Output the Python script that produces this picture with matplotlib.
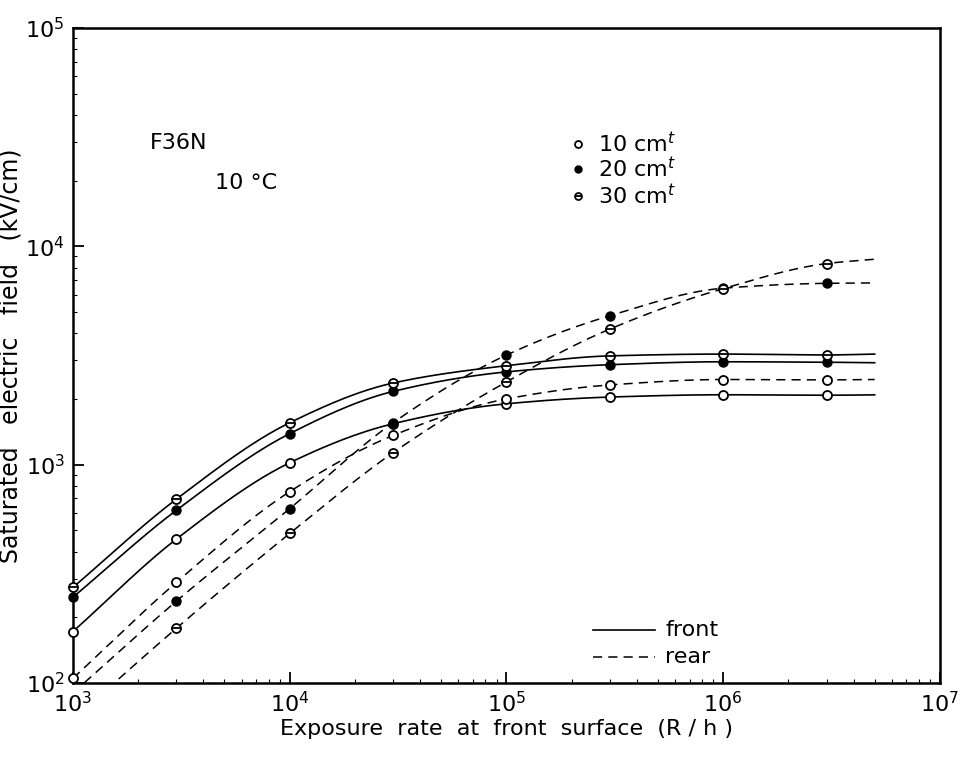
import numpy as np
import matplotlib.pyplot as plt

# exposure rate (R/h) of the measured points
x_pts = [1e3, 3e3, 1e4, 3e4, 1e5, 3e5, 1e6, 3e6]

# saturated field (kV/cm); nan = off the plot
front_10 = [172, 456, 1020, 1540, 1900, 2040, 2090, 2080]
front_20 = [247, 618, 1387, 2165, 2660, 2870, 2960, 2945]
front_30 = [274, 695, 1556, 2366, 2840, 3150, 3210, 3180]
rear_10 = [105, 289, 752, 1361, 2000, 2318, 2455, 2445]
rear_20 = [np.nan, 237, 629, 1556, 3177, 4810, 6430, 6770]
rear_30 = [np.nan, 178, 484, 1135, 2393, 4180, 6400, 8340]

# where the drawn curves start / end beyond the markers
x_start = 1e3
x_end = 5e6
start_vals = {"rear_20": 90, "rear_30": 68}
end_vals = {"front_10": 2088, "front_20": 2930, "front_30": 3210,
            "rear_10": 2455, "rear_20": 6800, "rear_30": 8730}

thick = ["10", "20", "30"]


def smooth(xs, ys, n=300):
    # monotone cubic (Fritsch-Carlson) through the points in log-log space
    lx = np.log10(xs)
    ly = np.log10(ys)
    h = np.diff(lx)
    d = np.diff(ly) / h
    m = np.zeros_like(lx)
    m[0], m[-1] = d[0], d[-1]
    for i in range(1, len(lx) - 1):
        if d[i - 1] * d[i] <= 0:
            m[i] = 0
        else:
            w1 = 2 * h[i] + h[i - 1]
            w2 = h[i] + 2 * h[i - 1]
            m[i] = (w1 + w2) / (w1 / d[i - 1] + w2 / d[i])
    xx = np.linspace(lx[0], lx[-1], n)
    k = np.clip(np.searchsorted(lx, xx) - 1, 0, len(lx) - 2)
    t = (xx - lx[k]) / h[k]
    h00 = 2 * t**3 - 3 * t**2 + 1
    h10 = t**3 - 2 * t**2 + t
    h01 = -2 * t**3 + 3 * t**2
    h11 = t**3 - t**2
    yy = h00 * ly[k] + h10 * h[k] * m[k] + h01 * ly[k + 1] + h11 * h[k] * m[k + 1]
    return 10**xx, 10**yy


plt.rcParams['font.family'] = 'DejaVu Sans'
fig = plt.figure(figsize=(9.65, 7.58), dpi=100)
ax = fig.add_axes([0.0756, 0.099, 0.8984, 0.864])

series = [("front_10", front_10, "-", "open"),
          ("front_20", front_20, "-", "filled"),
          ("front_30", front_30, "-", "half"),
          ("rear_10", rear_10, "--", "open"),
          ("rear_20", rear_20, "--", "filled"),
          ("rear_30", rear_30, "--", "half")]

DASH = (6, 4)


def draw_marker(x, y, kind, ms=6.5, **kw):
    if kind == "filled":
        ax.plot(x, y, 'o', ls='none', ms=ms, mfc='black', mec='black', zorder=4, **kw)
        return
    ax.plot(x, y, 'o', ls='none', ms=ms, mfc='white', mec='black', mew=1.3, zorder=4, **kw)
    if kind == "half":
        ax.plot(x, y, '_', ls='none', ms=ms, mec='black', mew=1.3, zorder=5, **kw)


for name, vals, ls, kind in series:
    xs = list(x_pts)
    ys = list(vals)
    if np.isnan(ys[0]):
        xs = [x_start] + xs[1:]
        ys = [start_vals[name]] + ys[1:]
    xs = xs + [x_end]
    ys = ys + [end_vals[name]]
    cx, cy = smooth(np.array(xs), np.array(ys, dtype=float))
    if ls == "--":
        ax.plot(cx, cy, color='black', lw=1.1, dashes=DASH, zorder=3)
    else:
        ax.plot(cx, cy, color='black', lw=1.2, zorder=3)
    draw_marker(x_pts, vals, kind, clip_on=False)

ax.set_xscale('log')
ax.set_yscale('log')
ax.set_xlim(1e3, 1e7)
ax.set_ylim(1e2, 1e5)

for s in ax.spines.values():
    s.set_linewidth(1.8)
ax.tick_params(which='major', direction='in', length=8, width=1.3, labelsize=16, pad=6)
ax.tick_params(which='minor', direction='in', length=3, width=0.8)
ax.tick_params(axis='both', which='both', top=False, right=False)

ax.set_xlabel("Exposure  rate  at  front  surface  (R / h )", fontsize=16, labelpad=2)
ax.set_ylabel("Saturated   electric   field   (kV/cm)", fontsize=17, labelpad=2)

ax.text(0.089, 0.824, "F36N", fontsize=16, va='center', transform=ax.transAxes)
ax.text(0.164, 0.763, "10 °C", fontsize=16, va='center', transform=ax.transAxes)

# legend for the sample thickness, drawn by hand
kinds = ["open", "filled", "half"]
rows = [0.823, 0.785, 0.744]
for t, kind, yr in zip(thick, kinds, rows):
    draw_marker([0.582], [yr], kind, ms=5, transform=ax.transAxes, clip_on=False)
    ax.text(0.606, yr, t + " cm$^t$", fontsize=16, va='center', transform=ax.transAxes)

# legend for front / rear
ax.plot([0.600, 0.671], [0.081, 0.081], color='black', lw=1.2, transform=ax.transAxes)
ax.plot([0.600, 0.671], [0.040, 0.040], color='black', lw=1.1, dashes=DASH, transform=ax.transAxes)
ax.text(0.683, 0.081, "front", fontsize=16, va='center', transform=ax.transAxes)
ax.text(0.683, 0.040, "rear", fontsize=16, va='center', transform=ax.transAxes)

fig.savefig("out.png", dpi=100)
